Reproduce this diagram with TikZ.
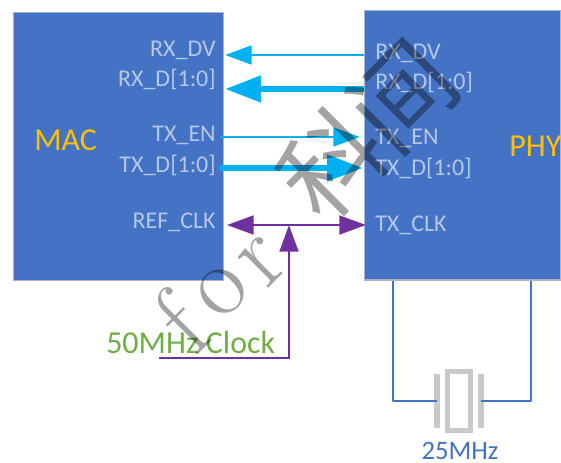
\documentclass[tikz,border=0pt]{standalone}
\usepackage{fontspec}
\setmainfont{Carlito}
\newfontfamily\wmserif{Latin Modern Roman}
\newfontfamily\wmcjk{Noto Sans CJK SC}
\usetikzlibrary{arrows.meta}
\definecolor{blk}{HTML}{4472C4}
\definecolor{edge}{HTML}{A9B4CC}
\definecolor{cy}{HTML}{00B0F0}
\definecolor{pur}{HTML}{7030A0}
\definecolor{grn}{HTML}{70AD47}
\definecolor{org}{HTML}{FFC000}
\definecolor{lbl}{HTML}{B4C7E7}
\definecolor{xt}{HTML}{C9C9C9}
\tikzset{
  chip/.style={fill=blk,draw=edge,line width=1pt,inner sep=0,anchor=north west},
  sig/.style={text=lbl,font=\fontsize{18}{20}\selectfont,inner sep=0},
  title/.style={text=org,font=\fontsize{24}{26}\selectfont,inner sep=0},
  thin/.style={draw=cy,line width=2.2pt,-{Triangle[length=20pt,width=14pt]}},
  thick/.style={draw=cy,line width=4.8pt,-{Triangle[length=27pt,width=19pt]}},
  clk/.style={draw=pur,line width=2.2pt},
  wire/.style={draw=blk,line width=2.2pt},
  xtal/.style={fill=xt,draw=none,inner sep=0},
  wm/.style={text=black,text opacity=0.36,inner sep=0,rotate=45}
}
\begin{document}
\begin{tikzpicture}[x=0.75pt,y=-0.75pt]
\useasboundingbox (0,0) rectangle (561,463);
\node[chip,minimum width=157.5pt,minimum height=201pt] (mac) at (13,12) {};
\node[chip,minimum width=147pt,minimum height=202pt] (phy) at (364,10) {};
\node[title,anchor=west] (mt) at (34,140) {MAC};
\node[title,anchor=west] (pt) at (509,146) {PHY};
\node[sig,anchor=east] (a1) at (216,50) {RX\_DV};
\node[sig,anchor=east] (a2) at (216,79) {RX\_D[1:0]};
\node[sig,anchor=east] (a3) at (216,135) {TX\_EN};
\node[sig,anchor=east] (a4) at (216,165) {TX\_D[1:0]};
\node[sig,anchor=east] (a5) at (216,222) {REF\_CLK};
\node[sig,anchor=west] (b1) at (375,53) {RX\_DV};
\node[sig,anchor=west] (b2) at (375,82) {RX\_D[1:0]};
\node[sig,anchor=west] (b3) at (375,138) {TX\_EN};
\node[sig,anchor=west] (b4) at (375,168) {TX\_D[1:0]};
\node[sig,anchor=west] (b5) at (375,225) {TX\_CLK};
\coordinate (p1) at (364,55); \coordinate (m1) at (225,55);
\coordinate (p2) at (364,89); \coordinate (m2) at (225,89);
\coordinate (m3) at (220,137); \coordinate (p3) at (360,137);
\coordinate (m4) at (222,168); \coordinate (p4) at (363,168);
\draw[thin] (p1) -- (m1);
\draw[thick] (p2) -- (m2);
\draw[thin] (m3) -- (p3);
\draw[thick,line cap=round] (m4) -- (p4);
\coordinate (c1) at (227,225); \coordinate (c2) at (366,225);
\coordinate (j) at (289,225); \coordinate (s) at (159,358); \coordinate (k) at (289,358);
\draw[clk,{Triangle[length=20pt,width=14pt]}-{Triangle[length=20pt,width=14pt]}] (c1) -- (c2);
\draw[clk,-{Triangle[length=20pt,width=14pt]}] (s) -- (k) -- (j);
\node[text=grn,font=\fontsize{24}{26}\selectfont,inner sep=0,anchor=west] (ck) at (106,343) {50MHz Clock};
% crystal
\node[xtal,minimum width=4pt,minimum height=40pt] (x1) at (437,401) {};
\node[xtal,minimum width=4pt,minimum height=40pt] (x2) at (481,401) {};
\node[draw=xt,line width=3.75pt,minimum width=17pt,minimum height=44pt,inner sep=0] (x3) at (459,401) {};
\coordinate (w1) at (393,281); \coordinate (w2) at (531,281);
\draw[wire,line join=round] (w1) |- (x1.center);
\draw[wire,line join=round] (w2) |- (x2.center);
\node[text=blk,font=\fontsize{20}{22}\selectfont,inner sep=0] (f) at (460,451) {25MHz};
% watermark
\node[wm,font=\wmserif\fontsize{76}{76}\selectfont] (wm1) at (180,322) {f};
\node[wm,font=\wmserif\fontsize{76}{76}\selectfont] (wm2) at (222,292) {o};
\node[wm,font=\wmserif\fontsize{76}{76}\selectfont] (wm3) at (263,262) {r};
\node[wm,font=\wmcjk\fontsize{76}{76}\selectfont] (wm4) at (332,163) {科};
\node[wm,font=\wmcjk\fontsize{76}{76}\selectfont] (wm5) at (403,96) {间};
\end{tikzpicture}
\end{document}
